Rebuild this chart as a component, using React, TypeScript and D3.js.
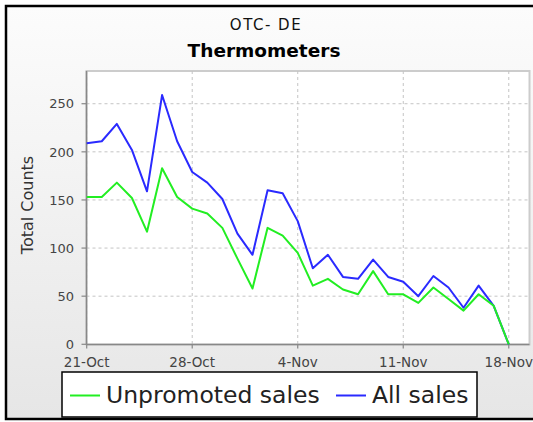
import React from "react";
import * as d3 from "d3";

const startDate = new Date(Date.UTC(2012, 9, 21));
const days = d3.utcDay.range(startDate, new Date(Date.UTC(2012, 10, 19)));

const allSales = [209, 211, 229, 202, 159, 259, 211, 179, 168, 151, 115, 93, 160, 157, 128, 79,
  93, 70, 68, 88, 70, 65, 50, 71, 59, 38, 61, 40, 0];
const unpromotedSales = [153, 153, 168, 152, 117, 183, 153, 141, 136, 121, 89, 58, 121, 113, 95, 61,
  68, 57, 52, 76, 52, 52, 43, 59, 47, 35, 52, 40, 0];

const yTicks = [0, 50, 100, 150, 200, 250];
const xTickLabels = ["21-Oct", "28-Oct", "4-Nov", "11-Nov", "18-Nov"];
const xTickDays = [0, 7, 14, 21, 28];

const seriesNames = ["Unpromoted sales", "All sales"];
const seriesColors = ["#22ee22", "#2a2aff"];

export default function App() {
  const W = 533, H = 422;
  const left = 86.5, right = 529.5, top = 71, bottom = 344.5;
  const x = d3.scaleUtc()
    .domain([startDate, d3.utcHour.offset(startDate, 24 * 29.38)])
    .range([86.7, right]);
  const y = d3.scaleLinear().domain([0, 284]).range([344.3, top]);

  const line = d3.line<number>()
    .x((_, i) => x(days[i]))
    .y((d) => y(d));

  const fmt = d3.utcFormat("%-d-%b");
  const font = "'DejaVu Sans', sans-serif";

  return (
    <svg width={W} height={H} style={{ position: "absolute", left: 0, top: 0 }}>
      <defs>
        <linearGradient id="bg" x1="0" y1="0" x2="0" y2="1">
          <stop offset="0" stopColor="#fcfcfc" />
          <stop offset="1" stopColor="#e6e6e6" />
        </linearGradient>
      </defs>
      <rect x={0} y={0} width={W} height={H} fill="#ffffff" />
      <rect x={6} y={6} width={540} height={413} fill="url(#bg)" stroke="#000" strokeWidth={2.5} />

      <text x={266} y={30} textAnchor="middle" fontFamily={font} fontSize={15} letterSpacing={1.5} fill="#111">OTC- DE</text>
      <text x={264} y={57} textAnchor="middle" fontFamily={font} fontSize={18.5} fontWeight="bold" fill="#000">Thermometers</text>

      <rect x={left} y={top} width={right - left} height={bottom - top} fill="#fff" stroke="#cccccc" strokeWidth={2} />

      {yTicks.filter((v) => v > 0).map((v) => (
        <line key={"gy" + v} x1={left} x2={right} y1={y(v)} y2={y(v)} stroke="#c4c4c4" strokeWidth={1} strokeDasharray="3,3" />
      ))}
      {xTickDays.map((d) => {
        const xx = x(days[d]);
        return <line key={"gx" + d} x1={xx} x2={xx} y1={top} y2={bottom} stroke="#c4c4c4" strokeWidth={1} strokeDasharray="3,3" />;
      })}

      <line x1={left} x2={left} y1={top} y2={bottom} stroke="#888" strokeWidth={1.5} />
      <line x1={left} x2={right} y1={bottom} y2={bottom} stroke="#888" strokeWidth={1.5} />

      {yTicks.map((v) => (
        <g key={"yt" + v}>
          <line x1={left - 5} x2={left} y1={y(v)} y2={y(v)} stroke="#888" strokeWidth={1.2} />
          <text x={74} y={y(v)} dy="0.36em" textAnchor="end" fontFamily={font} fontSize={13} fill="#444">{v}</text>
        </g>
      ))}
      {xTickDays.map((d, i) => {
        const xx = x(days[d]);
        return (
          <g key={"xt" + d}>
            <line x1={xx} x2={xx} y1={bottom} y2={bottom + 4} stroke="#888" strokeWidth={1.2} />
            <text x={xx} y={366.5} textAnchor="middle" fontFamily={font} fontSize={13.5} fill="#444">{xTickLabels[i] ?? fmt(days[d])}</text>
          </g>
        );
      })}

      <text transform="translate(33,205) rotate(-90)" textAnchor="middle" fontFamily={font} fontSize={16} fill="#333">Total Counts</text>

      <path d={line(allSales) ?? ""} fill="none" stroke={seriesColors[1]} strokeWidth={2} strokeLinejoin="round" />
      <path d={line(unpromotedSales) ?? ""} fill="none" stroke={seriesColors[0]} strokeWidth={2} strokeLinejoin="round" />

      <rect x={62} y={372} width={415} height={45} fill="#fff" stroke="#000" strokeWidth={1.5} />
      <line x1={70} x2={100} y1={395.5} y2={395.5} stroke={seriesColors[0]} strokeWidth={2} />
      <text x={106} y={402.5} fontFamily={font} fontSize={23.5} fill="#222">{seriesNames[0]}</text>
      <line x1={336} x2={366} y1={395.5} y2={395.5} stroke={seriesColors[1]} strokeWidth={2} />
      <text x={372} y={402.5} fontFamily={font} fontSize={23.5} fill="#222">{seriesNames[1]}</text>
    </svg>
  );
}
